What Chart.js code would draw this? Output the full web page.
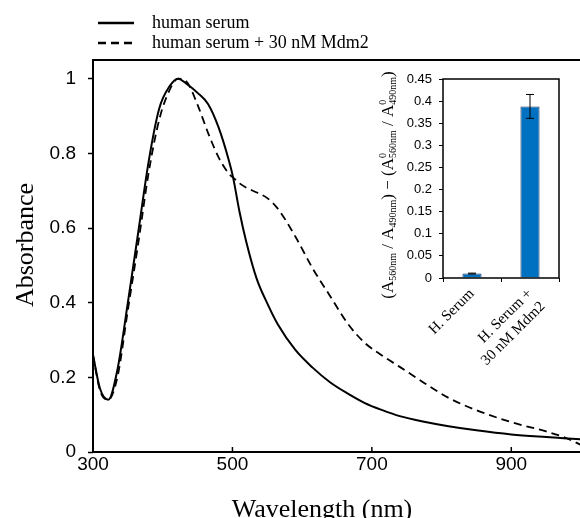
<!DOCTYPE html>
<html>
<head>
<meta charset="utf-8">
<script src="https://cdn.jsdelivr.net/npm/chart.js@4.4.0/dist/chart.umd.min.js"></script>
<style>
  html, body { margin: 0; padding: 0; background: #fff; overflow: hidden; }
  #wrap { position: relative; width: 600px; height: 530px; }
  #main { position: absolute; left: 0; top: 0; }
  #inset { position: absolute; left: 340px; top: 55px; }
</style>
</head>
<body>
<div id="wrap">
  <canvas id="main" width="600" height="530"></canvas>
  <canvas id="inset" width="240" height="350"></canvas>
</div>
<script>
// main spectrum data
const wavelengths = [300, 310, 322, 335, 350, 365, 380, 395, 410, 422, 435, 450, 465, 480, 495, 501, 510, 520, 535, 550, 565, 590, 615, 640, 665, 690, 715, 740, 775, 810, 850, 900, 950, 975, 1000];
const serumAbs = [0.26, 0.17, 0.14, 0.22, 0.40, 0.59, 0.78, 0.92, 0.98, 1.00, 0.985, 0.962, 0.932, 0.87, 0.78, 0.735, 0.645, 0.562, 0.463, 0.398, 0.342, 0.274, 0.226, 0.187, 0.157, 0.131, 0.112, 0.096, 0.081, 0.069, 0.058, 0.047, 0.040, 0.037, 0.034];
const serumMdm2Abs = [0.26, 0.165, 0.14, 0.20, 0.38, 0.56, 0.75, 0.89, 0.97, 1.00, 0.99, 0.93, 0.855, 0.79, 0.745, 0.735, 0.72, 0.708, 0.695, 0.68, 0.652, 0.578, 0.492, 0.418, 0.345, 0.292, 0.258, 0.228, 0.185, 0.145, 0.112, 0.080, 0.055, 0.040, 0.019];
const seriesNames = ["human serum", "human serum + 30 nM Mdm2"];
const xTicks = [300, 500, 700, 900];
const yTicks = [0, 0.2, 0.4, 0.6, 0.8, 1];

// inset bar data
const insetCategories = [["H. Serum"], ["H. Serum +", "30 nM Mdm2"]];
const insetValues = [0.01, 0.388];
const insetErrors = [0.001, 0.027];
const insetYTicks = [0, 0.05, 0.1, 0.15, 0.2, 0.25, 0.3, 0.35, 0.4, 0.45];

const SERIF = "'Liberation Serif', 'Times New Roman', serif";
const SANS = "'Liberation Sans', Arial, sans-serif";

Chart.defaults.color = "#000";

// frame, inward x ticks, legend and axis titles for the main plot
const mainDecor = {
  id: "mainDecor",
  afterDraw(chart) {
    const ctx = chart.ctx;
    const a = chart.chartArea;
    const xs = chart.scales.x;
    ctx.save();
    ctx.strokeStyle = "#000";
    ctx.lineWidth = 2;
    ctx.strokeRect(a.left, a.top, a.right - a.left, a.bottom - a.top);
    ctx.lineWidth = 1.5;
    xTicks.forEach(v => {
      const px = xs.getPixelForValue(v);
      ctx.beginPath();
      ctx.moveTo(px, a.bottom);
      ctx.lineTo(px, a.bottom - 5);
      ctx.stroke();
    });

    // legend
    chart.data.datasets.forEach((ds, i) => {
      const y = 23 + i * 20;
      ctx.beginPath();
      ctx.lineWidth = 2.5;
      ctx.setLineDash(ds.borderDash || []);
      ctx.moveTo(98, y);
      ctx.lineTo(134, y);
      ctx.stroke();
      ctx.setLineDash([]);
      ctx.font = "18px " + SERIF;
      ctx.textBaseline = "middle";
      ctx.textAlign = "left";
      ctx.fillStyle = "#000";
      ctx.fillText(ds.label, 152, y);
    });

    // axis titles
    ctx.font = "26px " + SERIF;
    ctx.textAlign = "center";
    ctx.textBaseline = "alphabetic";
    ctx.fillText("Wavelength (nm)", a.left + 229, 517);
    ctx.translate(33, 245);
    ctx.rotate(-Math.PI / 2);
    ctx.fillText("Absorbance", 0, 0);
    ctx.restore();
  }
};

new Chart(document.getElementById("main"), {
  type: "line",
  data: {
    labels: wavelengths,
    datasets: [
      {
        label: seriesNames[0],
        data: serumAbs,
        borderColor: "#000",
        borderWidth: 2,
        pointRadius: 0,
        fill: false,
        cubicInterpolationMode: "monotone"
      },
      {
        label: seriesNames[1],
        data: serumMdm2Abs,
        borderColor: "#000",
        borderWidth: 1.8,
        borderDash: [8, 5],
        pointRadius: 0,
        fill: false,
        cubicInterpolationMode: "monotone"
      }
    ]
  },
  options: {
    responsive: false,
    animation: false,
    devicePixelRatio: 1,
    layout: { padding: { left: 0, top: 60, right: 19, bottom: 0 } },
    plugins: { legend: { display: false }, tooltip: { enabled: false } },
    scales: {
      x: {
        type: "linear",
        min: 300,
        max: 1000,
        afterBuildTicks: s => { s.ticks = xTicks.map(v => ({ value: v })); },
        afterFit: s => { s.height = 78; },
        grid: { display: false, drawTicks: false },
        border: { display: false },
        ticks: { font: { family: SANS, size: 19 }, padding: 1, callback: v => String(v) }
      },
      y: {
        min: 0,
        max: 1.05,
        afterBuildTicks: s => { s.ticks = yTicks.map(v => ({ value: v })); },
        afterFit: s => { s.width = 93; },
        grid: { drawOnChartArea: false, tickLength: 5, tickColor: "#000", tickWidth: 1.5 },
        border: { display: false },
        ticks: { font: { family: SANS, size: 19 }, padding: 12, callback: v => String(v) }
      }
    }
  },
  plugins: [mainDecor]
});

// draws text with subscripts / stacked sup+sub, rotated to read bottom-to-top
function drawRichVertical(ctx, parts, x, y, size, small) {
  ctx.save();
  ctx.translate(x, y);
  ctx.rotate(-Math.PI / 2);
  ctx.textBaseline = "alphabetic";
  ctx.textAlign = "left";
  ctx.fillStyle = "#000";
  const big = size + "px " + SERIF;
  const sm = small + "px " + SERIF;
  let total = 0;
  parts.forEach(p => {
    ctx.font = p.t === "n" ? big : sm;
    total += ctx.measureText(p.t === "ss" ? p.sub : p.s).width;
  });
  let cx = -total / 2;
  parts.forEach(p => {
    if (p.t === "n") {
      ctx.font = big;
      ctx.fillText(p.s, cx, 0);
      cx += ctx.measureText(p.s).width;
    } else if (p.t === "sub") {
      ctx.font = sm;
      ctx.fillText(p.s, cx, 3);
      cx += ctx.measureText(p.s).width;
    } else {
      ctx.font = sm;
      ctx.fillText(p.sup, cx, -7);
      ctx.fillText(p.sub, cx, 3);
      cx += ctx.measureText(p.sub).width;
    }
  });
  ctx.restore();
}

const insetTitle = [
  { t: "n", s: "(A" }, { t: "sub", s: "560nm" },
  { t: "n", s: " / A" }, { t: "sub", s: "490nm" },
  { t: "n", s: ") \u2212 (A" }, { t: "ss", sup: "0", sub: "560nm" },
  { t: "n", s: " / A" }, { t: "ss", sup: "0", sub: "490nm" },
  { t: "n", s: ")" }
];

const insetDecor = {
  id: "insetDecor",
  afterDatasetsDraw(chart) {
    const ctx = chart.ctx;
    const ys = chart.scales.y;
    const meta = chart.getDatasetMeta(0);
    ctx.save();
    ctx.strokeStyle = "#000";
    ctx.lineWidth = 1;
    meta.data.forEach((bar, i) => {
      const top = ys.getPixelForValue(insetValues[i] + insetErrors[i]);
      const bot = ys.getPixelForValue(insetValues[i] - insetErrors[i]);
      ctx.beginPath();
      ctx.moveTo(bar.x, top); ctx.lineTo(bar.x, bot);
      ctx.moveTo(bar.x - 4, top); ctx.lineTo(bar.x + 4, top);
      ctx.moveTo(bar.x - 4, bot); ctx.lineTo(bar.x + 4, bot);
      ctx.stroke();
    });
    ctx.restore();
  },
  afterDraw(chart) {
    const ctx = chart.ctx;
    const a = chart.chartArea;
    ctx.save();
    ctx.strokeStyle = "#000";
    ctx.lineWidth = 1.5;
    ctx.strokeRect(a.left, a.top, a.right - a.left, a.bottom - a.top);
    ctx.restore();
    drawRichVertical(ctx, insetTitle, 53, 130, 17, 10);
  }
};

new Chart(document.getElementById("inset"), {
  type: "bar",
  data: {
    labels: insetCategories,
    datasets: [{
      data: insetValues,
      backgroundColor: "#0070c0",
      borderColor: "#203864",
      borderWidth: 1,
      barPercentage: 0.33,
      categoryPercentage: 1
    }]
  },
  options: {
    responsive: false,
    animation: false,
    devicePixelRatio: 1,
    layout: { padding: { left: 0, top: 24, right: 21, bottom: 0 } },
    plugins: { legend: { display: false }, tooltip: { enabled: false } },
    scales: {
      x: {
        afterFit: s => { s.height = 127; },
        grid: { drawOnChartArea: false, tickLength: 4, tickColor: "#000", offset: true },
        border: { display: false },
        ticks: { font: { family: SERIF, size: 15 }, minRotation: 45, maxRotation: 45, autoSkip: false, padding: 3 }
      },
      y: {
        min: 0,
        max: 0.45,
        afterBuildTicks: s => { s.ticks = insetYTicks.map(v => ({ value: v })); },
        afterFit: s => { s.width = 103; },
        grid: { drawOnChartArea: false, tickLength: 4, tickColor: "#000" },
        border: { display: false },
        ticks: { font: { family: SANS, size: 13 }, padding: 7, callback: v => String(v) }
      }
    }
  },
  plugins: [insetDecor]
});
</script>
</body>
</html>
